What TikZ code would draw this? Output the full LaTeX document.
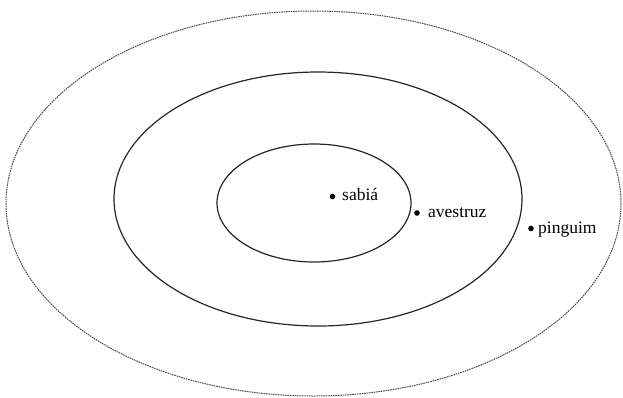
\documentclass[tikz,border=0pt]{standalone}
\usepackage{fontspec}
\setmainfont{Liberation Serif}
\begin{document}
\begin{tikzpicture}[x=1pt,y=-1pt,
  setline/.style={draw=black!85, line width=1.2pt},
  outerline/.style={draw=black!70, line width=1pt, dash pattern=on 1.6pt off 0.8pt},
  dotmark/.style={circle, fill=black, inner sep=0pt, minimum size=5.6pt},
  lbl/.style={anchor=base west, inner sep=0pt, font=\fontsize{17.5}{20}\selectfont}]
\useasboundingbox (0,0) rectangle (623,397);
\draw[outerline] (313.5,203.5) ellipse [x radius=307.5, y radius=192.5];
\draw[setline] (318,199) ellipse [x radius=204, y radius=127];
\draw[setline] (314,203) ellipse [x radius=97, y radius=59];
\node[dotmark] (d1) at (332.5,196.5) {};
\node[lbl] (t1) at (342,200.5) {sabiá};
\node[dotmark] (d2) at (417,213) {};
\node[lbl] (t2) at (428,217.5) {avestruz};
\node[dotmark] (d3) at (531,228.5) {};
\node[lbl] (t3) at (538,233) {pinguim};
\end{tikzpicture}
\end{document}
